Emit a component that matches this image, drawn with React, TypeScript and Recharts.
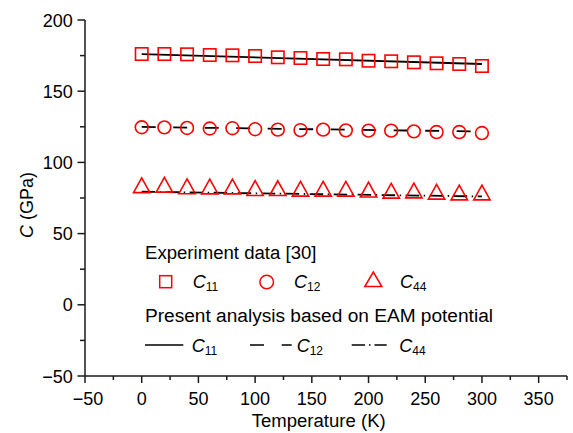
import React from "react";
import { ComposedChart, Scatter, Line, XAxis, YAxis, Legend } from "recharts";

// ---------- data ----------
const TEMPS = [0, 20, 40, 60, 80, 100, 120, 140, 160, 180, 200, 220, 240, 260, 280, 300];
const C11_EXP = [176.1, 176.1, 175.9, 175.4, 175.2, 174.7, 173.8, 173.3, 172.6, 172.4, 171.4, 171.0, 170.3, 169.6, 169.1, 167.7];
const C12_EXP = [124.7, 124.6, 124.2, 123.8, 124.0, 123.3, 123.0, 122.7, 123.0, 122.5, 122.3, 122.3, 121.8, 121.3, 121.3, 120.6];
const C44_EXP = [84.0, 84.3, 83.2, 83.1, 83.1, 82.0, 81.9, 81.5, 81.5, 81.5, 80.9, 80.1, 80.3, 79.4, 78.9, 78.9];

const FIT_T = [0, 300];
const C11_FIT = [176.1, 169.1];
const C12_FIT = [124.9, 121.7];
const C44_FIT = [79.4, 76.1];

const X_TICKS = [-50, -25, 0, 25, 50, 75, 100, 125, 150, 175, 200, 225, 250, 275, 300, 325, 350, 375];
const X_LABELED = [-50, 0, 50, 100, 150, 200, 250, 300, 350];
const Y_TICKS = [-50, -25, 0, 25, 50, 75, 100, 125, 150, 175, 200];
const Y_LABELED = [-50, 0, 50, 100, 150, 200];

const toPts = (xs: number[], ys: number[]) => xs.map((t, i) => ({ T: t, v: ys[i] }));
const c11Exp = toPts(TEMPS, C11_EXP);
const c12Exp = toPts(TEMPS, C12_EXP);
const c44Exp = toPts(TEMPS, C44_EXP);
const c11Fit = toPts(FIT_T, C11_FIT);
const c12Fit = toPts(FIT_T, C12_FIT);
const c44Fit = toPts(FIT_T, C44_FIT);

// ---------- styles ----------
const FONT = "'Liberation Sans', Arial, Helvetica, sans-serif";
const RED = "#ff0000";
const AX = "#1a1a1a";

const fmt = (v: number) => (v < 0 ? "\u2212" + Math.abs(v) : String(v));

const SquareShape = (p: any) => {
  const { cx, cy } = p;
  if (cx == null || cy == null) return null;
  return <rect x={cx - 6.2} y={cy - 6.2} width={12.4} height={12.4} fill="none" stroke={RED} strokeWidth={1.6} />;
};
const CircleShape = (p: any) => {
  const { cx, cy } = p;
  if (cx == null || cy == null) return null;
  return <circle cx={cx} cy={cy} r={6.4} fill="none" stroke={RED} strokeWidth={1.6} />;
};
const TriShape = (p: any) => {
  const { cx, cy } = p;
  if (cx == null || cy == null) return null;
  const w = 8.2, h = 7.4;
  return (
    <path
      d={`M${cx},${cy - h} L${cx + w},${cy + h} L${cx - w},${cy + h} Z`}
      fill="none"
      stroke={RED}
      strokeWidth={1.6}
      strokeLinejoin="miter"
    />
  );
};

const XTick = (p: any) => {
  const { x, y, payload } = p;
  const major = X_LABELED.includes(payload.value);
  return (
    <g>
      <line x1={x} y1={y} x2={x} y2={y + (major ? 7 : 4)} stroke={AX} strokeWidth={1.5} />
      {major && (
        <text x={x + (payload.value < 0 ? 3 : 0)} y={y + 28.5} textAnchor="middle" fontSize={18} fontFamily={FONT} fill="#000">
          {fmt(payload.value)}
        </text>
      )}
    </g>
  );
};

const YTick = (p: any) => {
  const { x, y, payload } = p;
  const major = Y_LABELED.includes(payload.value);
  return (
    <g>
      <line x1={x - (major ? 7.5 : 5)} y1={y} x2={x} y2={y} stroke={AX} strokeWidth={1.5} />
      {major && (
        <text x={x - 12.3} y={y + 6.5} textAnchor="end" fontSize={18} fontFamily={FONT} fill="#000">
          {fmt(payload.value)}
        </text>
      )}
    </g>
  );
};

const CSub = ({ x, y, sub }: { x: number; y: number; sub: string }) => (
  <text x={x} y={y} fontSize={18} fontFamily={FONT} fill="#000">
    <tspan fontStyle="italic">C</tspan>
    <tspan fontSize={12} dy={3}>{sub}</tspan>
  </text>
);

const LegendBox = () => (
  <svg width={573} height={433} style={{ position: "absolute", left: 0, top: 0, pointerEvents: "none" }}>
    <text x={145} y={259.3} fontSize={18} fontFamily={FONT} fill="#000" textLength={171.5} lengthAdjust="spacingAndGlyphs">
      Experiment data [30]
    </text>
    <rect x={159.7} y={275.7} width={12} height={12} fill="none" stroke={RED} strokeWidth={1.5} />
    <CSub x={192.7} y={288.3} sub="11" />
    <circle cx={266.7} cy={282} r={6.8} fill="none" stroke={RED} strokeWidth={1.5} />
    <CSub x={294} y={288.3} sub="12" />
    <path d="M373.3,272 L381.8,286.5 L364.8,286.5 Z" fill="none" stroke={RED} strokeWidth={1.5} />
    <CSub x={400} y={288.3} sub="44" />
    <text x={145} y={321.7} fontSize={18} fontFamily={FONT} fill="#000" textLength={348} lengthAdjust="spacingAndGlyphs">
      Present analysis based on EAM potential
    </text>
    <line x1={145} y1={345} x2={183.3} y2={345} stroke="#000" strokeWidth={1.6} />
    <CSub x={191.7} y={351.5} sub="11" />
    <line x1={250} y1={345} x2={291.7} y2={345} stroke="#000" strokeWidth={1.6} strokeDasharray="14 17.7" />
    <CSub x={296.7} y={351.5} sub="12" />
    <line x1={351.7} y1={345} x2={386.7} y2={345} stroke="#000" strokeWidth={1.6} strokeDasharray="13.3 4 1.5 4" />
    <CSub x={399.3} y={351.5} sub="44" />
  </svg>
);

const XTitle = () => (
  <text x={251.7} y={427} fontSize={18} fontFamily={FONT} fill="#000" textLength={134} lengthAdjust="spacingAndGlyphs">
    Temperature (K)
  </text>
);

const YTitle = () => (
  <text x={33} y={205} transform="rotate(-90, 33, 205)" textAnchor="middle" fontSize={18} fontFamily={FONT} fill="#000">
    <tspan fontStyle="italic">C</tspan> (GPa)
  </text>
);

export default function App() {
  return (
    <div style={{ position: "absolute", left: 0, top: 0, width: 573, height: 433, background: "#fff" }}>
      <ComposedChart width={573} height={433} margin={{ top: 20, right: 6, left: 0, bottom: 0 }}>
        <XAxis
          type="number"
          dataKey="T"
          domain={[-50, 375]}
          ticks={X_TICKS}
          interval={0}
          allowDataOverflow
          height={57}
          tickLine={false}
          tickSize={0}
          tickMargin={0}
          axisLine={{ stroke: AX, strokeWidth: 1.5 }}
          tick={<XTick />}
          label={<XTitle />}
        />
        <YAxis
          type="number"
          dataKey="v"
          domain={[-50, 200]}
          ticks={Y_TICKS}
          interval={0}
          allowDataOverflow
          width={85}
          tickLine={false}
          tickSize={0}
          tickMargin={0}
          axisLine={{ stroke: AX, strokeWidth: 1.5 }}
          tick={<YTick />}
          label={<YTitle />}
        />
        <Scatter name="C11 exp" data={c11Exp} dataKey="v" shape={SquareShape} isAnimationActive={false} />
        <Scatter name="C12 exp" data={c12Exp} dataKey="v" shape={CircleShape} isAnimationActive={false} />
        <Scatter name="C44 exp" data={c44Exp} dataKey="v" shape={TriShape} isAnimationActive={false} />
        <Line name="C11 EAM" data={c11Fit} dataKey="v" type="linear" stroke="#000" strokeWidth={1.8} dot={false} activeDot={false} isAnimationActive={false} />
        <Line name="C12 EAM" data={c12Fit} dataKey="v" type="linear" stroke="#000" strokeWidth={1.8} strokeDasharray="14 17.5" dot={false} activeDot={false} isAnimationActive={false} />
        <Line name="C44 EAM" data={c44Fit} dataKey="v" type="linear" stroke="#000" strokeWidth={1.8} strokeDasharray="13.5 4.5 1.5 4.5" dot={false} activeDot={false} isAnimationActive={false} />
        <Legend
          layout="horizontal"
          verticalAlign="middle"
          align="center"
          content={<LegendBox />}
          wrapperStyle={{ position: "absolute", left: 0, top: 0, width: 573, height: 433, pointerEvents: "none" }}
        />
      </ComposedChart>
    </div>
  );
}
